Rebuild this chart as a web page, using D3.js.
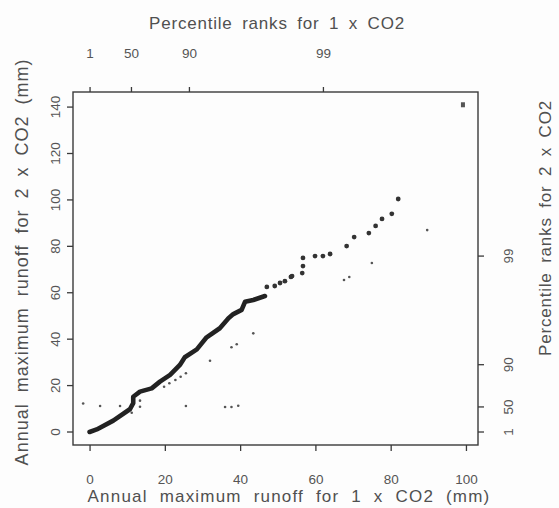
<!DOCTYPE html>
<html>
<head>
<meta charset="utf-8">
<script src="https://cdn.jsdelivr.net/npm/d3@7"></script>
<style>
    body { margin: 0; background: #fdfdfd; }
    svg { display: block; font-family: "Liberation Sans", Arial, sans-serif; }
    .axis path { display: none; }
    .axis line { stroke: #3a3a3a; stroke-width: 1.3; }
    .axis text { fill: #555; font-size: 13.5px; font-family: "Liberation Sans", Arial, sans-serif; }
    .title { fill: #505050; }
</style>
</head>
<body>
<svg id="qq-chart" width="559" height="508"></svg>
<script>
    // quantiles of the dense part of the Q-Q curve (mm), 1 x CO2 vs 2 x CO2
    var denseX1 = [0, 1.9, 6.3, 10.7, 11.6, 11.6, 13.4, 16.5, 18.7, 21.4, 24, 25.3, 28.5, 31.1, 34.6, 36.9, 38.2, 40.4, 41.3, 43.5, 46.6];
    var denseY2 = [0, 1.1, 4.9, 9.8, 12.4, 15.2, 17.4, 18.8, 21.7, 24.6, 28.9, 32.2, 35.6, 40.8, 44.7, 49, 50.8, 52.6, 56.1, 56.9, 58.6];

    // upper tail, drawn as separate dots
    var tailX1 = [47.1, 49.2, 50.6, 51.9, 53.5, 53.8, 56.5, 56.7, 56.7, 59.9, 62, 63.9, 68.3, 70.3, 74.2, 76, 77.7, 80.3, 82];
    var tailY2 = [62.5, 62.9, 64.2, 65, 66.8, 67.2, 68.5, 71.5, 75, 75.8, 75.8, 76.7, 80.1, 84, 85.7, 88.8, 91.8, 94, 100.4];

    // largest value
    var maxX1 = [99.2];
    var maxY2 = [141];

    // light scatter of single points
    var scatX1 = [-1.7, 2.8, 8.1, 13.4, 13.4, 11.2, 19.8, 21.2, 22.8, 24.2, 25.6, 25.6, 32, 36, 37.7, 39.5, 37.7, 39.1, 43.5, 67.6, 69, 75, 89.7];
    var scatY2 = [12.3, 11.2, 11.2, 13.5, 10.9, 8.3, 19.5, 21, 22.4, 23.8, 25.3, 11.2, 30.7, 10.8, 10.8, 11.3, 36.5, 37.8, 42.5, 65.5, 66.8, 72.8, 87];

    var xTicks = [0, 20, 40, 60, 80, 100];
    var yTicks = [0, 20, 40, 60, 80, 100, 120, 140];
    var pctLabels = ["1", "50", "90", "99"];
    var pctX1 = [0, 11, 26.4, 62];      // percentile ranks for 1 x CO2 (mm)
    var pctY2 = [0, 10.8, 29, 75.8];    // percentile ranks for 2 x CO2 (mm)

    var margin = { top: 92, bottom: 63, left: 73, right: 81 };

    var svg = d3.select("#qq-chart");
    var w = +svg.attr("width");
    var h = +svg.attr("height");
    var width = w - margin.left - margin.right;
    var height = h - margin.top - margin.bottom;

    var chart = svg.append("g")
        .attr("transform", "translate(" + margin.left + "," + margin.top + ")");

    var x = d3.scaleLinear().domain([-4.4, 103.2]).range([0, width]);
    var y = d3.scaleLinear().domain([-5.6, 146.5]).range([height, 0]);

    // bottom axis
    chart.append("g")
        .classed("axis", true)
        .attr("transform", "translate(0," + height + ")")
        .call(d3.axisBottom(x).tickValues(xTicks).tickSize(6).tickPadding(23).tickSizeOuter(0));

    // top axis: percentile ranks for 1 x CO2
    chart.append("g")
        .classed("axis", true)
        .call(d3.axisTop(x).tickValues(pctX1).tickSize(5).tickPadding(29).tickSizeOuter(0)
            .tickFormat(function(d, i) { return pctLabels[i]; }));

    // left axis, labels turned
    var left = chart.append("g")
        .classed("axis", true)
        .call(d3.axisLeft(y).tickValues(yTicks).tickSize(6).tickSizeOuter(0));
    left.selectAll("text")
        .attr("x", 0).attr("y", 0).attr("dy", null)
        .attr("text-anchor", "middle")
        .attr("transform", function(d) { return "translate(-13," + y(d) + ") rotate(-90)"; });
    left.selectAll(".tick").attr("transform", "translate(0,0)");
    left.selectAll(".tick line").attr("y1", function(d) { return y(d); }).attr("y2", function(d) { return y(d); });

    // right axis: percentile ranks for 2 x CO2
    var right = chart.append("g")
        .classed("axis", true)
        .attr("transform", "translate(" + width + ",0)")
        .call(d3.axisRight(y).tickValues(pctY2).tickSize(6).tickSizeOuter(0)
            .tickFormat(function(d, i) { return pctLabels[i]; }));
    right.selectAll("text")
        .attr("x", 0).attr("y", 0).attr("dy", null)
        .attr("text-anchor", "middle")
        .attr("transform", function(d) { return "translate(35," + y(d) + ") rotate(-90)"; });
    right.selectAll(".tick").attr("transform", "translate(0,0)");
    right.selectAll(".tick line").attr("y1", function(d) { return y(d); }).attr("y2", function(d) { return y(d); });

    // frame
    chart.append("rect")
        .attr("width", width).attr("height", height)
        .attr("fill", "none").attr("stroke", "#3a3a3a").attr("stroke-width", 1.4);

    // dense curve
    var line = d3.line()
        .x(function(d) { return x(d[0]); })
        .y(function(d) { return y(d[1]); });
    chart.append("path")
        .datum(d3.zip(denseX1, denseY2))
        .attr("d", line)
        .attr("fill", "none")
        .attr("stroke", "#222")
        .attr("stroke-width", 4.6)
        .attr("stroke-linejoin", "round")
        .attr("stroke-linecap", "round");

    chart.selectAll(".tail")
        .data(d3.zip(tailX1, tailY2))
        .enter().append("circle")
        .classed("tail", true)
        .attr("cx", function(d) { return x(d[0]); })
        .attr("cy", function(d) { return y(d[1]); })
        .attr("r", 2.4)
        .attr("fill", "#333");

    chart.selectAll(".max")
        .data(d3.zip(maxX1, maxY2))
        .enter().append("rect")
        .classed("max", true)
        .attr("x", function(d) { return x(d[0]) - 2; })
        .attr("y", function(d) { return y(d[1]) - 2.5; })
        .attr("width", 4).attr("height", 5)
        .attr("fill", "#555");

    chart.selectAll(".scat")
        .data(d3.zip(scatX1, scatY2))
        .enter().append("circle")
        .classed("scat", true)
        .attr("cx", function(d) { return x(d[0]); })
        .attr("cy", function(d) { return y(d[1]); })
        .attr("r", 1.3)
        .attr("fill", "#555");

    // titles
    svg.append("text").classed("title", true)
        .attr("x", 277).attr("y", 23).attr("dy", "0.35em")
        .attr("text-anchor", "middle")
        .style("font-size", "17px").style("letter-spacing", "0.8px").style("word-spacing", "4px")
        .text("Percentile ranks for 1 x CO2");

    svg.append("text").classed("title", true)
        .attr("x", 289).attr("y", 496).attr("dy", "0.35em")
        .attr("text-anchor", "middle")
        .style("font-size", "17px").style("letter-spacing", "1.2px").style("word-spacing", "6px")
        .text("Annual maximum runoff for 1 x CO2 (mm)");

    svg.append("text").classed("title", true)
        .attr("transform", "translate(22,262) rotate(-90)").attr("dy", "0.35em")
        .attr("text-anchor", "middle")
        .style("font-size", "18px").style("letter-spacing", "1px").style("word-spacing", "5px")
        .text("Annual maximum runoff for 2 x CO2 (mm)");

    svg.append("text").classed("title", true)
        .attr("transform", "translate(545,228) rotate(-90)").attr("dy", "0.35em")
        .attr("text-anchor", "middle")
        .style("font-size", "17px").style("letter-spacing", "0.8px").style("word-spacing", "4px")
        .text("Percentile ranks for 2 x CO2");
</script>
</body>
</html>
